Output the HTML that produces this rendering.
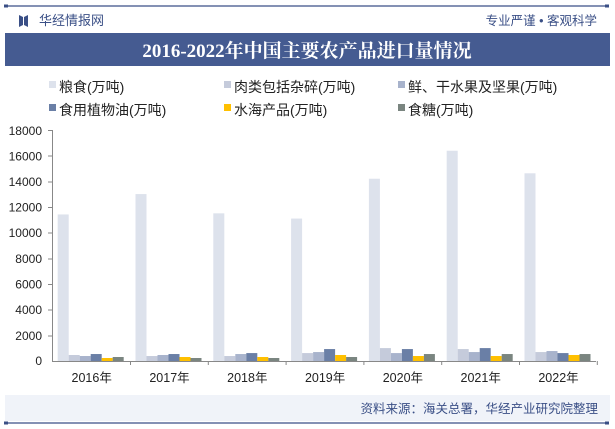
<!DOCTYPE html>
<html><head><meta charset="utf-8"><style>
html,body{margin:0;padding:0;background:#fff;}
svg{display:block;font-family:"Liberation Sans","Noto Sans CJK SC",sans-serif;}
</style></head><body>
<svg width="615" height="429" viewBox="0 0 615 429" xmlns="http://www.w3.org/2000/svg">
<rect width="615" height="429" fill="#fff"/>
<line x1="6" y1="6" x2="608" y2="6" stroke="#3a4f86" stroke-width="1.2"/>
<rect x="4" y="4.5" width="4" height="3" fill="#3a4f86"/><rect x="605" y="4.5" width="4" height="3" fill="#3a4f86"/>
<path d="M19 15 L23 17 L23 25 L19 27 Z M24 17 L28 15 L28 27 L24 25 Z" fill="#3a4f86"/>
<text x="39" y="25" font-size="13" fill="#3a4f86">华经情报网</text>
<text x="597" y="25" font-size="12.5" fill="#3a4f86" text-anchor="end">专业严谨 • 客观科学</text>
<rect x="5" y="33" width="605" height="33" fill="#455b91"/>
<text x="307" y="57" font-size="19" font-weight="bold" fill="#fff" text-anchor="middle" font-family="Liberation Serif,'Noto Serif CJK SC',serif">2016-2022年中国主要农产品进口量情况</text>
<g font-size="14" fill="#222">
<rect x="49" y="81" width="7" height="7" fill="#dde2ec"/><text x="59" y="92">粮食(万吨)</text>
<rect x="224" y="81" width="7" height="7" fill="#c5cbdb"/><text x="234" y="92">肉类包括杂碎(万吨)</text>
<rect x="398" y="81" width="7" height="7" fill="#a8b3cc"/><text x="408" y="92">鲜、干水果及坚果(万吨)</text>
<rect x="49" y="104" width="7" height="7" fill="#6a7fa6"/><text x="59" y="115">食用植物油(万吨)</text>
<rect x="224" y="104" width="7" height="7" fill="#ffc000"/><text x="234" y="115">水海产品(万吨)</text>
<rect x="398" y="104" width="7" height="7" fill="#7a8580"/><text x="408" y="115">食糖(万吨)</text>
</g>
<g font-size="12" fill="#222" text-anchor="end">
<text x="42" y="135">18000</text><text x="42" y="160.5">16000</text><text x="42" y="186">14000</text>
<text x="42" y="211.5">12000</text><text x="42" y="237">10000</text><text x="42" y="263">8000</text>
<text x="42" y="288.5">6000</text><text x="42" y="314">4000</text><text x="42" y="340">2000</text><text x="42" y="365">0</text>
</g>
<g stroke="#888" stroke-width="1">
<line x1="52.5" y1="130" x2="52.5" y2="361"/>
<line x1="48" y1="130.5" x2="52" y2="130.5"/><line x1="48" y1="156" x2="52" y2="156"/><line x1="48" y1="182" x2="52" y2="182"/>
<line x1="48" y1="207.5" x2="52" y2="207.5"/><line x1="48" y1="233" x2="52" y2="233"/><line x1="48" y1="259" x2="52" y2="259"/>
<line x1="48" y1="284.5" x2="52" y2="284.5"/><line x1="48" y1="310" x2="52" y2="310"/><line x1="48" y1="336" x2="52" y2="336"/>
<line x1="52" y1="361.5" x2="596" y2="361.5"/>
</g>
<g id="bars"></g>
<g id="xl" font-size="12.5" fill="#222" text-anchor="middle"></g>
<rect x="5" y="395" width="605" height="26" fill="#f0f3f9"/>
<text x="598" y="413" font-size="12.5" fill="#3a4f86" text-anchor="end">资料来源：海关总署，华经产业研究院整理</text>
<line x1="6" y1="423" x2="608" y2="423" stroke="#3a4f86" stroke-width="1.2"/>
<rect x="4" y="421.5" width="4" height="3" fill="#3a4f86"/><rect x="605" y="421.5" width="4" height="3" fill="#3a4f86"/>
<script>
var d=[[11468,470,390,545,234,312],[13062,390,470,545,312,234],[11555,390,545,620,312,234],[11144,620,700,935,470,312],[14262,1010,620,935,390,545],[16454,935,700,1010,390,545],[14687,700,780,620,470,545]];
var c=["#dde2ec","#c5cbdb","#a8b3cc","#6a7fa6","#ffc000","#7a8580"];
var ns="http://www.w3.org/2000/svg",g=document.getElementById("bars"),xl=document.getElementById("xl"),ax=document.querySelector("svg > g[stroke]");
for(var i=0;i<7;i++){var t=52.7+i*77.8;
 for(var j=0;j<6;j++){var h=d[i][j]*12.78/1000;var r=document.createElementNS(ns,"rect");
 r.setAttribute("x",t+5+j*11);r.setAttribute("y",361-h);r.setAttribute("width",11);r.setAttribute("height",h);r.setAttribute("fill",c[j]);g.appendChild(r);}
 var tx=document.createElementNS(ns,"text");tx.setAttribute("x",t+39);tx.setAttribute("y",382);tx.textContent=(2016+i)+"年";xl.appendChild(tx);
 var l=document.createElementNS(ns,"line");var tt=t+77.8;l.setAttribute("x1",tt);l.setAttribute("x2",tt);l.setAttribute("y1",361);l.setAttribute("y2",365);ax.appendChild(l);}
</script>
</svg>
</body></html>
